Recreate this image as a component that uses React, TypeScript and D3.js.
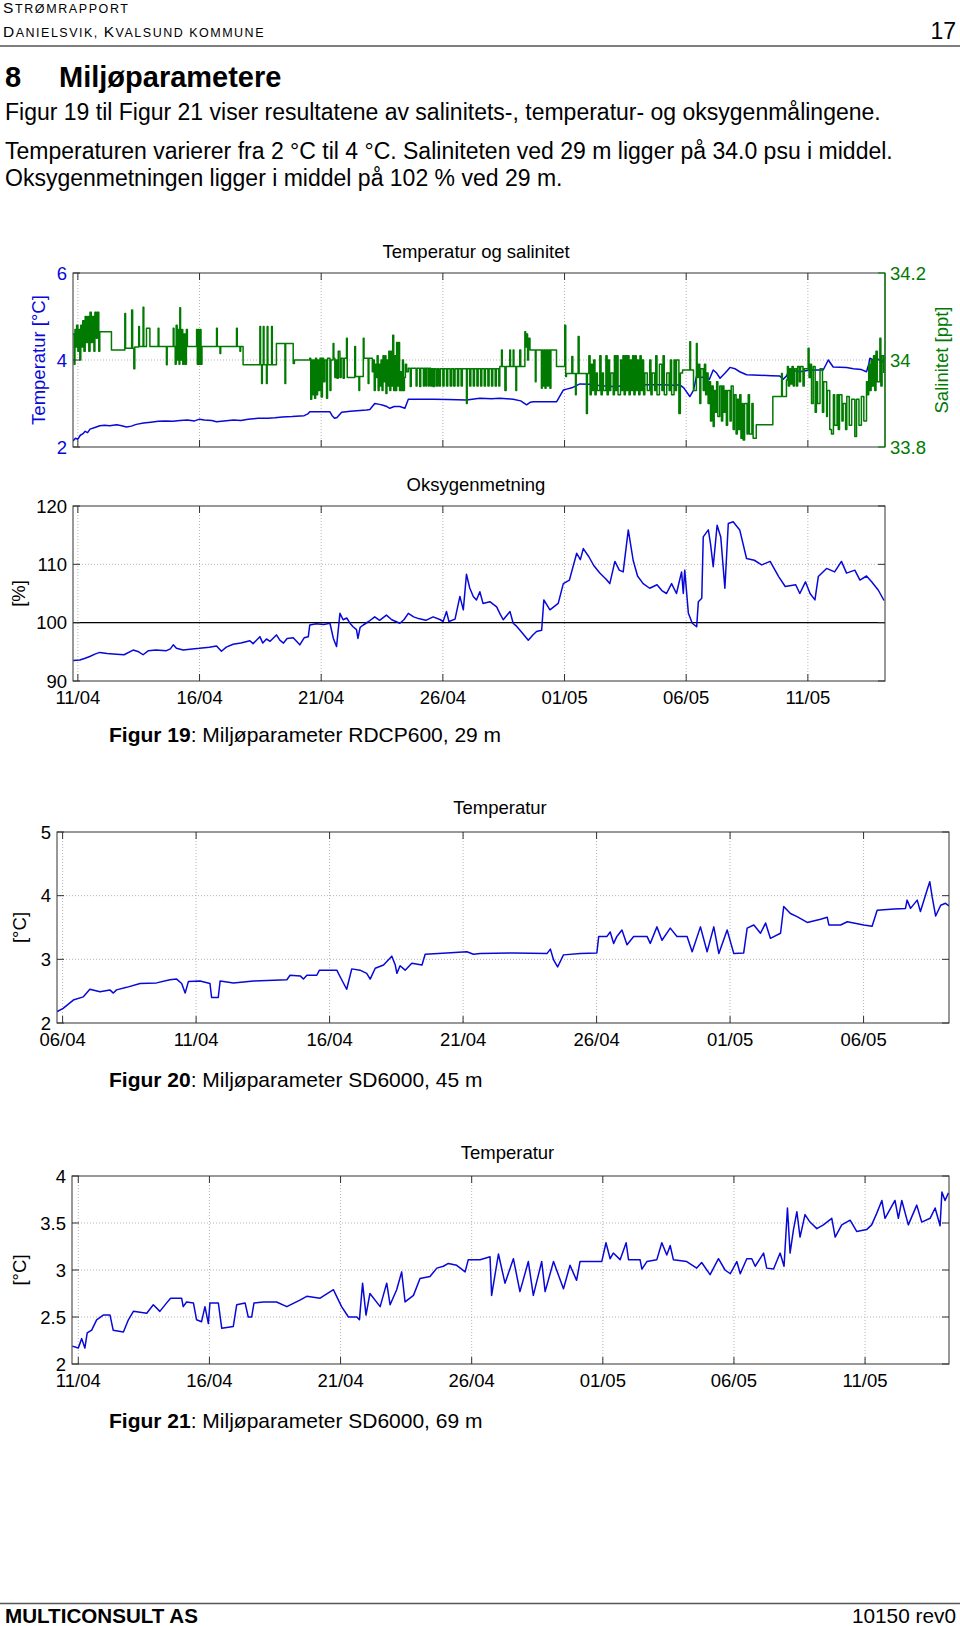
import React from 'react'
import * as d3 from 'd3'

const FONT = 'Liberation Sans, Arial, Helvetica, sans-serif'
const BLUE = '#0808d8'
const GREEN = '#007a00'
const YEAR = '2010'

type Pt = [number, number]

// Figur 19 - RDCP600, 29 m. Day 0 = 11/04
const rdcpSpan = [-0.2, 33.17]
const rdcpDates = ['11/04', '16/04', '21/04', '26/04', '01/05', '06/05', '11/05']
const rdcpTempTicks = [2, 4, 6]
const rdcpSalTicks = [33.8, 34, 34.2]
const rdcpOxyTicks = [90, 100, 110, 120]

const rdcpTemp: Pt[] = [
  [-0.2, 2.14], [-0.1, 2.2], [0.0, 2.18], [0.1, 2.27], [0.2, 2.3], [0.3, 2.36], [0.4, 2.33], [0.5, 2.41],
  [0.7, 2.45], [0.9, 2.49], [1.1, 2.5], [1.3, 2.49], [1.6, 2.51], [1.8, 2.49], [2.0, 2.46], [2.2, 2.48],
  [2.4, 2.52], [2.7, 2.55], [3.0, 2.57], [3.3, 2.59], [3.6, 2.6], [3.9, 2.59], [4.2, 2.61], [4.5, 2.62],
  [4.8, 2.6], [5.0, 2.64], [5.2, 2.62], [5.5, 2.61], [5.7, 2.58], [6.0, 2.6], [6.4, 2.62], [6.7, 2.61],
  [7.0, 2.64], [7.4, 2.66], [7.8, 2.66], [8.1, 2.67], [8.4, 2.69], [8.8, 2.7], [9.3, 2.72], [9.45, 2.76],
  [9.53, 2.81], [10.36, 2.81], [10.45, 2.72], [10.55, 2.66], [10.65, 2.68], [10.84, 2.8], [11.2, 2.82],
  [11.6, 2.84], [11.86, 2.85], [12.0, 2.86], [12.2, 3.0], [12.4, 2.98], [12.54, 2.96], [12.7, 2.93],
  [12.82, 2.89], [13.0, 2.93], [13.23, 2.93], [13.44, 2.89], [13.58, 3.1], [14.0, 3.1], [14.6, 3.1],
  [15.2, 3.09], [15.97, 3.08], [16.52, 3.12], [17.0, 3.11], [17.34, 3.12], [17.89, 3.1], [18.2, 3.06],
  [18.44, 2.97], [18.6, 3.03], [18.71, 3.04], [19.2, 3.04], [19.67, 3.04], [19.95, 3.31], [20.09, 3.33],
  [20.3, 3.36], [20.63, 3.45], [21.0, 3.44], [21.5, 3.41], [22.0, 3.39], [22.5, 3.41], [23.0, 3.42],
  [23.37, 3.43], [24.0, 3.43], [24.5, 3.42], [24.74, 3.43], [24.9, 3.36], [25.15, 3.16], [25.3, 3.3],
  [25.42, 3.62], [25.6, 3.6], [25.84, 3.62], [25.95, 3.55], [26.11, 3.77], [26.25, 3.7], [26.39, 3.58],
  [26.6, 3.7], [26.8, 3.83], [27.0, 3.8], [27.2, 3.73], [27.48, 3.66], [28.0, 3.65], [28.5, 3.64],
  [28.85, 3.63], [28.99, 3.56], [29.1, 3.62], [29.26, 3.77], [29.67, 3.73], [30.09, 3.77], [30.63, 3.77],
  [30.84, 4.0], [31.04, 3.84], [31.59, 3.83], [31.87, 3.8], [32.2, 3.78], [32.41, 3.73], [32.5, 3.9],
  [32.55, 4.04], [32.7, 4.0], [32.83, 4.04], [33.0, 3.98], [33.1, 3.95],
]

const rdcpSal: Pt[] = [
  [-0.2, 34.06], [-0.15, 33.99], [-0.12, 34.07], [-0.08, 34.03], [-0.05, 34.08], [0.0, 34.02], [0.04, 34.07],
  [0.08, 34.0], [0.12, 34.08], [0.16, 34.03], [0.2, 34.09], [0.25, 34.02], [0.3, 34.1], [0.35, 34.04],
  [0.4, 34.1], [0.45, 34.02], [0.5, 34.11], [0.55, 34.04], [0.6, 34.1], [0.66, 34.02], [0.7, 34.11],
  [0.76, 34.05], [0.8, 34.11], [0.86, 34.02], [0.9, 34.065], [1.38, 34.023], [1.93, 34.107], [1.96, 34.027],
  [2.21, 34.115], [2.25, 34.027], [2.3, 33.98], [2.34, 34.03], [2.5, 34.077], [2.53, 34.031], [2.68, 34.121],
  [2.71, 34.031], [2.82, 34.073], [2.96, 34.031], [3.3, 34.073], [3.33, 34.031], [3.64, 33.989], [3.67, 34.031],
  [3.92, 34.073], [3.95, 34.031], [4.0, 33.99], [4.04, 34.08], [4.08, 34.0], [4.12, 34.07], [4.16, 33.99],
  [4.19, 34.12], [4.22, 34.0], [4.27, 34.07], [4.31, 33.99], [4.36, 34.06], [4.41, 33.99], [4.46, 34.07],
  [4.5, 34.031], [4.88, 34.07], [4.91, 33.99], [4.95, 34.07], [4.98, 33.99], [5.02, 34.07], [5.06, 33.99],
  [5.1, 34.031], [5.7, 34.073], [5.73, 34.031], [5.84, 34.015], [5.87, 34.031], [6.52, 34.073], [6.55, 34.031],
  [6.66, 34.02], [6.69, 34.031], [6.79, 33.989], [7.48, 34.077], [7.51, 33.989], [7.55, 33.946], [7.58, 33.989],
  [7.62, 34.077], [7.65, 33.989], [7.75, 33.946], [7.78, 34.077], [7.81, 33.989], [7.96, 34.077], [7.99, 33.989],
  [8.16, 34.038], [8.51, 33.946], [8.54, 34.038], [8.85, 33.992], [8.9, 34.0], [9.53, 34.004], [9.57, 33.91],
  [9.61, 34.0], [9.65, 33.92], [9.69, 34.0], [9.73, 33.912], [9.77, 34.004], [9.81, 33.92], [9.85, 34.0],
  [9.9, 33.93], [9.95, 34.004], [10.0, 33.915], [10.05, 34.004], [10.1, 33.95], [10.15, 34.0], [10.22, 33.912],
  [10.26, 34.004], [10.36, 33.93], [10.4, 34.0], [10.49, 34.038], [10.52, 34.004], [10.56, 33.96], [10.6, 34.0],
  [10.65, 33.958], [10.7, 34.02], [10.77, 33.96], [10.82, 34.004], [10.9, 33.958], [10.95, 34.004], [11.04, 34.05],
  [11.07, 33.96], [11.38, 34.031], [11.41, 33.962], [11.55, 33.93], [11.58, 33.962], [11.73, 34.05], [11.76, 34.004],
  [11.93, 33.946], [11.96, 34.004], [12.1, 33.973], [12.14, 34.0], [12.18, 33.93], [12.22, 33.99], [12.26, 33.96],
  [12.3, 34.01], [12.34, 33.93], [12.38, 33.99], [12.42, 33.94], [12.46, 34.0], [12.5, 33.93], [12.54, 34.01],
  [12.58, 33.95], [12.62, 34.01], [12.66, 33.923], [12.7, 34.0], [12.74, 33.94], [12.78, 34.02], [12.82, 33.93],
  [12.86, 34.02], [12.9, 33.94], [12.94, 34.057], [12.98, 33.93], [13.02, 34.01], [13.06, 33.93], [13.1, 34.04],
  [13.14, 33.94], [13.18, 34.04], [13.22, 33.93], [13.26, 33.973], [13.3, 33.93], [13.34, 34.0], [13.38, 33.93],
  [13.42, 33.96], [13.46, 33.99], [13.51, 33.973], [13.58, 33.981], [13.66, 33.939], [13.7, 33.981], [13.9, 33.94],
  [13.94, 33.981], [14.05, 33.939], [14.09, 33.981], [14.2, 33.94], [14.24, 33.981], [14.3, 33.94], [14.33, 33.981],
  [14.4, 33.94], [14.44, 33.981], [14.5, 33.94], [14.55, 33.98], [14.6, 33.939], [14.65, 33.98], [14.72, 33.94],
  [14.78, 33.98], [14.84, 33.94], [14.9, 33.98], [15.0, 33.94], [15.05, 33.98], [15.15, 33.94], [15.2, 33.98],
  [15.3, 33.94], [15.36, 33.98], [15.44, 33.94], [15.5, 33.98], [15.6, 33.94], [15.65, 33.98], [15.75, 33.94],
  [15.8, 33.98], [15.97, 33.9], [16.0, 33.98], [16.1, 33.94], [16.15, 33.98], [16.25, 33.94], [16.3, 33.98],
  [16.4, 33.94], [16.45, 33.98], [16.55, 33.94], [16.6, 33.98], [16.7, 33.94], [16.75, 33.98], [16.85, 33.94],
  [16.9, 33.98], [17.0, 33.94], [17.05, 33.98], [17.15, 33.94], [17.2, 33.98], [17.3, 33.94], [17.34, 33.985],
  [17.41, 34.023], [17.44, 33.985], [17.55, 33.93], [17.6, 33.985], [17.75, 34.023], [17.78, 33.985],
  [17.89, 34.023], [17.92, 33.985], [18.0, 33.93], [18.03, 33.985], [18.16, 34.023], [18.2, 33.985],
  [18.37, 34.065], [18.4, 34.03], [18.44, 34.06], [18.48, 34.0], [18.52, 34.05], [18.58, 34.023], [18.8, 33.95],
  [18.83, 34.023], [19.05, 33.935], [19.08, 34.023], [19.12, 33.94], [19.16, 34.023], [19.2, 33.935],
  [19.24, 34.023], [19.3, 33.94], [19.34, 34.023], [19.4, 33.935], [19.44, 34.023], [19.67, 33.985],
  [20.01, 34.08], [20.05, 33.962], [20.08, 33.969], [20.3, 34.008], [20.34, 33.969], [20.45, 33.92],
  [20.48, 33.969], [20.56, 34.054], [20.6, 33.969], [20.9, 33.877], [20.94, 33.969], [21.0, 34.01], [21.05, 33.92],
  [21.1, 33.99], [21.15, 33.93], [21.2, 34.0], [21.25, 33.92], [21.3, 33.97], [21.35, 33.93], [21.45, 34.01],
  [21.5, 33.92], [21.55, 33.97], [21.6, 33.93], [21.7, 34.01], [21.75, 33.92], [21.8, 34.0], [21.85, 33.93],
  [21.9, 33.97], [22.0, 33.92], [22.05, 34.01], [22.1, 33.93], [22.15, 34.01], [22.2, 33.92], [22.3, 34.0],
  [22.35, 33.93], [22.4, 34.01], [22.45, 33.92], [22.5, 34.01], [22.55, 33.93], [22.6, 34.01], [22.65, 33.92],
  [22.7, 34.0], [22.75, 33.93], [22.8, 34.01], [22.85, 33.92], [22.9, 34.01], [22.95, 33.93], [23.0, 34.0],
  [23.05, 33.92], [23.1, 34.01], [23.15, 33.93], [23.2, 34.0], [23.25, 33.92], [23.3, 33.97], [23.4, 33.93],
  [23.5, 34.0], [23.55, 33.92], [23.6, 33.97], [23.7, 33.93], [23.75, 34.01], [23.8, 33.92], [23.9, 33.99],
  [24.0, 33.93], [24.05, 34.01], [24.1, 33.92], [24.2, 33.97], [24.3, 33.93], [24.35, 34.0], [24.4, 33.92],
  [24.5, 34.0], [24.55, 33.93], [24.6, 34.0], [24.7, 33.877], [24.76, 33.97], [24.85, 33.977], [25.15, 34.042],
  [25.18, 33.977], [25.3, 33.93], [25.42, 34.038], [25.45, 33.96], [25.5, 33.99], [25.56, 33.9], [25.6, 33.98],
  [25.7, 33.93], [25.75, 33.99], [25.8, 33.92], [25.84, 33.97], [25.9, 33.9], [25.95, 33.95], [26.0, 33.86],
  [26.05, 33.94], [26.11, 33.847], [26.15, 33.93], [26.2, 33.88], [26.25, 33.95], [26.3, 33.87], [26.38, 33.94],
  [26.45, 33.86], [26.5, 33.94], [26.55, 33.88], [26.6, 33.93], [26.65, 33.85], [26.7, 33.93], [26.8, 33.86],
  [26.85, 33.94], [26.93, 33.84], [26.98, 33.92], [27.05, 33.83], [27.1, 33.91], [27.15, 33.84], [27.2, 33.92],
  [27.25, 33.82], [27.3, 33.9], [27.34, 33.816], [27.4, 33.9], [27.5, 33.83], [27.55, 33.92], [27.6, 33.83],
  [27.7, 33.9], [27.75, 33.82], [27.88, 33.851], [28.56, 33.916], [28.92, 33.969], [28.95, 33.916],
  [29.12, 33.954], [29.16, 33.985], [29.2, 33.94], [29.25, 33.98], [29.3, 33.945], [29.35, 33.985], [29.4, 33.94],
  [29.45, 33.98], [29.53, 33.94], [29.58, 33.985], [29.65, 33.95], [29.7, 33.985], [29.8, 33.94], [29.85, 33.98],
  [30.01, 34.027], [30.05, 33.96], [30.1, 33.99], [30.15, 33.9], [30.22, 33.985], [30.3, 33.88], [30.35, 33.95],
  [30.4, 33.9], [30.5, 33.98], [30.6, 33.88], [30.65, 33.95], [30.77, 33.87], [30.8, 33.93], [30.9, 33.84],
  [30.97, 33.83], [31.05, 33.92], [31.1, 33.85], [31.2, 33.92], [31.25, 33.84], [31.3, 33.92], [31.4, 33.86],
  [31.45, 33.9], [31.55, 33.84], [31.6, 33.916], [31.7, 33.85], [31.8, 33.91], [31.93, 33.824], [32.0, 33.91],
  [32.1, 33.85], [32.2, 33.916], [32.3, 33.86], [32.41, 33.95], [32.45, 33.92], [32.5, 33.99], [32.55, 33.93],
  [32.6, 34.0], [32.65, 33.94], [32.7, 34.01], [32.75, 33.93], [32.8, 34.02], [32.85, 33.95], [32.96, 34.05],
  [33.0, 33.94], [33.05, 34.01], [33.12, 33.97],
]

const rdcpOxy: Pt[] = [
  [-0.19, 93.5], [0.08, 93.6], [0.3, 93.9], [0.49, 94.2], [0.7, 94.6], [0.9, 94.9], [1.2, 94.7], [1.59, 94.6],
  [1.9, 94.5], [2.27, 95.3], [2.5, 95.0], [2.68, 94.5], [2.9, 95.2], [3.2, 95.3], [3.64, 95.2], [3.8, 95.5],
  [3.92, 96.2], [4.05, 95.6], [4.33, 95.3], [4.7, 95.5], [5.0, 95.6], [5.4, 95.8], [5.7, 96.0], [5.9, 95.1],
  [6.1, 95.8], [6.38, 96.3], [6.7, 96.5], [7.07, 96.9], [7.2, 96.4], [7.48, 97.6], [7.6, 96.5], [7.75, 97.2],
  [7.9, 96.8], [8.16, 97.9], [8.3, 97.0], [8.45, 96.5], [8.6, 97.3], [8.85, 97.4], [9.12, 96.2], [9.3, 97.4],
  [9.47, 97.6], [9.53, 99.6], [9.8, 99.8], [10.1, 99.7], [10.36, 99.9], [10.5, 97.3], [10.63, 95.9],
  [10.77, 101.6], [10.9, 100.5], [11.05, 100.8], [11.2, 99.8], [11.31, 99.3], [11.45, 98.8], [11.51, 97.3],
  [11.6, 99.2], [11.73, 99.6], [11.95, 100.2], [12.2, 101.0], [12.4, 100.4], [12.68, 101.3], [12.9, 100.5],
  [13.23, 99.9], [13.4, 100.5], [13.58, 101.6], [13.8, 101.0], [14.0, 100.7], [14.3, 100.4], [14.6, 101.0],
  [14.9, 100.5], [15.01, 100.2], [15.15, 101.9], [15.25, 100.2], [15.5, 100.6], [15.7, 104.5], [15.84, 102.2],
  [15.97, 108.3], [16.1, 106.0], [16.25, 104.5], [16.38, 103.9], [16.52, 105.3], [16.65, 103.3], [16.93, 103.6],
  [17.21, 102.7], [17.35, 101.5], [17.48, 100.5], [17.76, 101.9], [17.89, 99.9], [18.0, 99.5], [18.17, 98.7],
  [18.35, 97.8], [18.51, 97.0], [18.7, 97.9], [18.85, 98.5], [19.06, 98.7], [19.15, 103.9], [19.4, 102.2],
  [19.74, 103.3], [19.95, 106.7], [20.2, 107.3], [20.5, 111.9], [20.65, 110.8], [20.77, 112.7], [21.0, 111.3],
  [21.2, 109.8], [21.45, 108.5], [21.7, 107.5], [21.86, 106.7], [22.07, 110.5], [22.25, 109.0], [22.41, 108.7],
  [22.62, 115.9], [22.82, 110.7], [23.0, 108.0], [23.23, 106.7], [23.5, 105.9], [23.8, 106.5], [24.0, 105.5],
  [24.19, 105.0], [24.4, 106.7], [24.6, 105.0], [24.81, 108.7], [24.88, 105.0], [24.94, 109.0], [25.09, 101.6],
  [25.25, 99.9], [25.43, 99.3], [25.5, 103.6], [25.64, 104.2], [25.7, 114.7], [25.91, 115.9], [26.0, 113.5],
  [26.11, 109.6], [26.27, 116.7], [26.42, 114.7], [26.59, 105.9], [26.73, 117.0], [26.93, 117.3], [27.2, 115.9],
  [27.48, 111.0], [27.8, 110.7], [28.1, 109.9], [28.45, 110.5], [28.8, 107.9], [29.07, 106.2], [29.5, 106.5],
  [29.67, 105.0], [29.9, 107.0], [30.09, 105.0], [30.29, 103.9], [30.43, 107.9], [30.77, 109.3], [31.1, 108.7],
  [31.38, 110.5], [31.59, 108.5], [31.93, 109.0], [32.14, 107.3], [32.41, 108.0], [32.62, 107.0], [32.89, 105.6],
  [33.13, 103.8],
]

// Figur 20 - SD6000, 45 m. Day 0 = 06/04
const sd45Span = [-0.21, 33.2]
const sd45Dates = ['06/04', '11/04', '16/04', '21/04', '26/04', '01/05', '06/05']
const sd45Ticks = [2, 3, 4, 5]
const sd45Temp: Pt[] = [
  [-0.2, 2.18], [0.02, 2.23], [0.4, 2.36], [0.77, 2.41], [1.02, 2.53], [1.4, 2.49], [1.77, 2.52], [1.9, 2.47],
  [2.02, 2.52], [2.4, 2.56], [2.9, 2.62], [3.52, 2.63], [4.02, 2.68], [4.27, 2.69], [4.46, 2.62], [4.59, 2.47],
  [4.71, 2.65], [5.15, 2.66], [5.52, 2.62], [5.58, 2.4], [5.83, 2.4], [5.9, 2.66], [6.4, 2.63], [7.15, 2.66],
  [8.4, 2.68], [8.52, 2.75], [8.9, 2.74], [9.02, 2.69], [9.15, 2.75], [9.52, 2.75], [9.62, 2.83], [10.27, 2.83],
  [10.39, 2.73], [10.64, 2.53], [10.83, 2.85], [11.14, 2.83], [11.39, 2.78], [11.52, 2.69], [11.71, 2.86],
  [12.02, 2.91], [12.33, 3.05], [12.46, 2.91], [12.52, 2.78], [12.64, 2.9], [12.83, 2.83], [13.08, 2.94],
  [13.46, 2.91], [13.58, 3.08], [14.39, 3.1], [15.14, 3.12], [15.39, 3.08], [15.64, 3.09], [16.89, 3.1],
  [18.14, 3.09], [18.27, 3.16], [18.39, 2.99], [18.54, 2.88], [18.76, 3.07], [19.39, 3.09], [20.01, 3.1],
  [20.08, 3.36], [20.39, 3.36], [20.51, 3.43], [20.64, 3.25], [20.76, 3.36], [20.95, 3.46], [21.14, 3.23],
  [21.39, 3.36], [21.89, 3.36], [22.01, 3.25], [22.26, 3.51], [22.45, 3.3], [22.76, 3.49], [23.01, 3.36],
  [23.39, 3.36], [23.58, 3.12], [23.89, 3.51], [24.14, 3.12], [24.39, 3.51], [24.58, 3.09], [24.89, 3.46],
  [25.14, 3.09], [25.51, 3.1], [25.64, 3.49], [25.89, 3.54], [26.14, 3.41], [26.33, 3.57], [26.51, 3.33],
  [26.89, 3.41], [27.01, 3.83], [27.26, 3.72], [27.51, 3.67], [27.89, 3.58], [28.39, 3.63], [28.64, 3.66],
  [28.7, 3.54], [29.14, 3.54], [29.39, 3.59], [30.01, 3.54], [30.32, 3.52], [30.51, 3.77], [31.14, 3.79],
  [31.57, 3.8], [31.63, 3.93], [31.76, 3.8], [32.01, 3.93], [32.13, 3.75], [32.38, 4.09], [32.48, 4.22],
  [32.57, 3.98], [32.7, 3.68], [32.89, 3.85], [33.07, 3.88], [33.2, 3.84],
]

// Figur 21 - SD6000, 69 m. Day 0 = 11/04
const sd69Span = [-0.24, 33.2]
const sd69Dates = ['11/04', '16/04', '21/04', '26/04', '01/05', '06/05', '11/05']
const sd69Ticks = [2, 2.5, 3, 3.5, 4]
const sd69Temp: Pt[] = [
  [-0.23, 2.19], [0.0, 2.17], [0.13, 2.27], [0.25, 2.17], [0.34, 2.33], [0.51, 2.36], [0.7, 2.47], [0.95, 2.52],
  [1.21, 2.52], [1.33, 2.36], [1.72, 2.34], [1.91, 2.47], [2.1, 2.56], [2.61, 2.54], [2.86, 2.63], [3.11, 2.56],
  [3.37, 2.65], [3.52, 2.7], [3.94, 2.7], [4.0, 2.61], [4.13, 2.66], [4.39, 2.65], [4.51, 2.47], [4.7, 2.45],
  [4.83, 2.61], [4.96, 2.43], [5.02, 2.65], [5.34, 2.65], [5.47, 2.38], [5.91, 2.4], [6.04, 2.63], [6.36, 2.65],
  [6.48, 2.5], [6.61, 2.5], [6.7, 2.65], [7.06, 2.66], [7.56, 2.66], [7.95, 2.61], [8.45, 2.68], [8.71, 2.72],
  [9.22, 2.7], [9.73, 2.79], [9.85, 2.72], [10.04, 2.61], [10.3, 2.5], [10.62, 2.5], [10.72, 2.47], [10.84, 2.86],
  [10.97, 2.52], [11.12, 2.75], [11.51, 2.61], [11.76, 2.86], [11.89, 2.63], [12.14, 2.79], [12.33, 2.98],
  [12.46, 2.66], [12.78, 2.73], [13.03, 2.91], [13.41, 2.93], [13.67, 3.02], [13.92, 3.04], [14.11, 3.07],
  [14.43, 3.05], [14.75, 2.98], [14.87, 3.11], [15.32, 3.11], [15.7, 3.14], [15.76, 2.73], [16.02, 3.17],
  [16.27, 2.86], [16.59, 3.12], [16.84, 2.77], [17.16, 3.09], [17.35, 2.73], [17.67, 3.09], [17.8, 2.77],
  [18.12, 3.09], [18.5, 2.8], [18.75, 3.05], [19.0, 2.89], [19.13, 3.09], [19.64, 3.09], [19.96, 3.09],
  [20.12, 3.29], [20.28, 3.12], [20.4, 3.18], [20.66, 3.11], [20.89, 3.29], [20.98, 3.11], [21.42, 3.11],
  [21.49, 3.01], [21.68, 3.09], [22.06, 3.11], [22.25, 3.29], [22.44, 3.16], [22.57, 3.26], [22.69, 3.11],
  [23.2, 3.09], [23.58, 3.02], [23.77, 3.08], [24.09, 2.95], [24.41, 3.12], [24.66, 3.0], [24.86, 2.96],
  [25.11, 3.09], [25.24, 2.96], [25.49, 3.12], [25.68, 3.12], [25.81, 3.04], [26.13, 3.18], [26.25, 3.02],
  [26.51, 3.01], [26.76, 3.18], [26.91, 3.04], [27.04, 3.66], [27.14, 3.18], [27.27, 3.43], [27.4, 3.62],
  [27.52, 3.35], [27.71, 3.59], [27.9, 3.51], [28.16, 3.44], [28.41, 3.48], [28.73, 3.55], [28.86, 3.35],
  [29.11, 3.48], [29.43, 3.53], [29.68, 3.41], [30.06, 3.43], [30.25, 3.48], [30.44, 3.6], [30.64, 3.74],
  [30.76, 3.55], [31.14, 3.74], [31.27, 3.55], [31.4, 3.74], [31.65, 3.48], [31.97, 3.69], [32.16, 3.51],
  [32.48, 3.55], [32.67, 3.66], [32.86, 3.47], [32.93, 3.83], [33.05, 3.74], [33.18, 3.82],
]

const parseDay = d3.utcParse('%d/%m/%Y')

type Series = { data: Pt[]; color: string; step?: boolean; right?: boolean }
type RightAxis = { domain: number[]; ticks: number[]; color: string; label: string; labelX: number }

interface PanelProps {
  id: string
  left: number
  top: number
  width: number
  height: number
  span: number[]
  dates: string[]
  yDomain: number[]
  yTicks: number[]
  yColor?: string
  yLabel: string
  yLabelX: number
  title: string
  titleY: number
  series: Series[]
  right?: RightAxis
  refLine?: number
  showDates?: boolean
}

function Panel(props: PanelProps) {
  const { id, left, top, width, height, span, dates, yDomain, yTicks, yLabel, yLabelX, title, titleY, series, right, refLine } = props
  const yColor = props.yColor || '#000'
  const bottom = top + height
  const rightX = left + width
  const t0 = parseDay(dates[0] + '/' + YEAR)!
  const at = (d: number) => new Date(t0.getTime() + d * 864e5)
  const x = d3.scaleUtc().domain([at(span[0]), at(span[1])]).range([left, rightX])
  const y = d3.scaleLinear().domain(yDomain).range([bottom, top])
  const y2 = right ? d3.scaleLinear().domain(right.domain).range([bottom, top]) : y
  const tickDates = dates.map(s => parseDay(s + '/' + YEAR)!)
  const tl = 7
  const fs = 18.5
  const grid = '#b4b4b4'
  const frame = '#333'

  return (
    <g fontFamily={FONT}>
      <defs>
        <clipPath id={id}>
          <rect x={left} y={top} width={width} height={height} />
        </clipPath>
      </defs>
      <rect x={left} y={top} width={width} height={height} fill='#fff' />
      {tickDates.map((d, i) => (
        <line key={'vg' + i} x1={x(d)} x2={x(d)} y1={top} y2={bottom} stroke={grid} strokeDasharray='1 2' />
      ))}
      {yTicks.slice(1, -1).map((v, i) => (
        <line key={'hg' + i} x1={left} x2={rightX} y1={y(v)} y2={y(v)} stroke={grid} strokeDasharray='1 2' />
      ))}
      {refLine !== undefined && (
        <line x1={left} x2={rightX} y1={y(refLine)} y2={y(refLine)} stroke='#000' strokeWidth={1.3} />
      )}
      <g clipPath={`url(#${id})`}>
        {series.map((s, i) => {
          const sc = s.right ? y2 : y
          const path = d3.line<Pt>()
            .x(p => x(at(p[0])))
            .y(p => sc(p[1]))
            .curve(s.step ? d3.curveStepAfter : d3.curveLinear)(s.data)
          return <path key={i} d={path || ''} fill='none' stroke={s.color} strokeWidth={1.5} strokeLinejoin='round' />
        })}
      </g>
      <rect x={left} y={top} width={width} height={height} fill='none' stroke={frame} strokeWidth={1} />
      {right && <line x1={rightX} x2={rightX} y1={top} y2={bottom} stroke={right.color} strokeWidth={1.2} />}
      {tickDates.map((d, i) => (
        <g key={'xt' + i}>
          <line x1={x(d)} x2={x(d)} y1={top} y2={top + tl} stroke={frame} />
          <line x1={x(d)} x2={x(d)} y1={bottom} y2={bottom - tl} stroke={frame} />
          {props.showDates && (
            <text x={x(d)} y={bottom + 23} fontSize={fs} textAnchor='middle' fill='#000'>{dates[i]}</text>
          )}
        </g>
      ))}
      {yTicks.map((v, i) => (
        <g key={'yt' + i}>
          <line x1={left} x2={left + tl} y1={y(v)} y2={y(v)} stroke={frame} />
          {!right && <line x1={rightX} x2={rightX - tl} y1={y(v)} y2={y(v)} stroke={frame} />}
          <text x={left - 6} y={y(v)} dy='0.36em' fontSize={fs} textAnchor='end' fill={yColor}>{String(v)}</text>
        </g>
      ))}
      {right && right.ticks.map((v, i) => (
        <g key={'rt' + i}>
          <line x1={rightX} x2={rightX - tl} y1={y2(v)} y2={y2(v)} stroke={right.color} />
          <text x={rightX + 5} y={y2(v)} dy='0.36em' fontSize={fs} fill={right.color}>{String(v)}</text>
        </g>
      ))}
      <text x={(left + rightX) / 2 - 3} y={titleY} fontSize={fs} textAnchor='middle' fill='#000'>{title}</text>
      <text transform={`translate(${yLabelX},${(top + bottom) / 2}) rotate(-90)`} dy='0.36em'
        fontSize={fs} textAnchor='middle' fill={yColor}>{yLabel}</text>
      {right && (
        <text transform={`translate(${right.labelX},${(top + bottom) / 2}) rotate(-90)`} dy='0.36em'
          fontSize={fs} textAnchor='middle' fill={right.color}>{right.label}</text>
      )}
    </g>
  )
}

function Caption({ y, num, rest }: { y: number; num: string; rest: string }) {
  return (
    <text x={109} y={y} fontSize={21} fontFamily={FONT} fill='#000'>
      <tspan fontWeight='bold'>{'Figur ' + num}</tspan>{rest}
    </text>
  )
}

export default function App() {
  return (
    <svg width={960} height={1626} style={{ position: 'absolute', left: 0, top: 0, background: '#fff' }}
      fontFamily={FONT}>
      <rect width={960} height={1626} fill='#fff' />
      {/* page header */}
      <text x={3} y={12.7} fill='#000' letterSpacing={1.6}>
        <tspan fontSize={15.5}>S</tspan><tspan fontSize={12.5}>TRØMRAPPORT</tspan>
      </text>
      <text x={3} y={37.3} fill='#000' letterSpacing={1.5}>
        <tspan fontSize={15.5}>D</tspan><tspan fontSize={12.5}>ANIELSVIK, </tspan>
        <tspan fontSize={15.5}>K</tspan><tspan fontSize={12.5}>VALSUND KOMMUNE</tspan>
      </text>
      <text x={956} y={39} fontSize={23} textAnchor='end' fill='#000'>17</text>
      <line x1={0} x2={960} y1={46} y2={46} stroke='#555' strokeWidth={1.5} />
      <text x={5} y={87} fontSize={29} fontWeight='bold' fill='#000'>8</text>
      <text x={59} y={87} fontSize={29} fontWeight='bold' fill='#000'>Miljøparametere</text>
      <text x={5} y={120} fontSize={23} fill='#000'>
        Figur 19 til Figur 21 viser resultatene av salinitets-, temperatur- og oksygenmålingene.
      </text>
      <text x={5} y={159} fontSize={23} fill='#000'>
        Temperaturen varierer fra 2 °C til 4 °C. Saliniteten ved 29 m ligger på 34.0 psu i middel.
      </text>
      <text x={5} y={186} fontSize={23} fill='#000'>
        Oksygenmetningen ligger i middel på 102 % ved 29 m.
      </text>

      <Panel id='c1' left={73} top={273} width={812} height={174} span={rdcpSpan} dates={rdcpDates}
        yDomain={[2, 6]} yTicks={rdcpTempTicks} yColor={BLUE} yLabel='Temperatur [°C]' yLabelX={38}
        title='Temperatur og salinitet' titleY={258}
        series={[{ data: rdcpTemp, color: BLUE }, { data: rdcpSal, color: GREEN, step: true, right: true }]}
        right={{ domain: [33.8, 34.2], ticks: rdcpSalTicks, color: GREEN, label: 'Salinitet [ppt]', labelX: 941 }} />

      <Panel id='c2' left={73} top={506} width={812} height={175} span={rdcpSpan} dates={rdcpDates}
        yDomain={[90, 120]} yTicks={rdcpOxyTicks} yLabel='[%]' yLabelX={18}
        title='Oksygenmetning' titleY={491} refLine={100} showDates
        series={[{ data: rdcpOxy, color: BLUE }]} />
      <Caption y={742} num='19' rest=': Miljøparameter RDCP600, 29 m' />

      <Panel id='c3' left={57} top={832} width={892} height={191} span={sd45Span} dates={sd45Dates}
        yDomain={[2, 5]} yTicks={sd45Ticks} yLabel='[°C]' yLabelX={19}
        title='Temperatur' titleY={814} showDates
        series={[{ data: sd45Temp, color: BLUE }]} />
      <Caption y={1087} num='20' rest=': Miljøparameter SD6000, 45 m' />

      <Panel id='c4' left={72} top={1176} width={877} height={188} span={sd69Span} dates={sd69Dates}
        yDomain={[2, 4]} yTicks={sd69Ticks} yLabel='[°C]' yLabelX={19}
        title='Temperatur' titleY={1159} showDates
        series={[{ data: sd69Temp, color: BLUE }]} />
      <Caption y={1428} num='21' rest=': Miljøparameter SD6000, 69 m' />

      {/* page footer */}
      <line x1={0} x2={960} y1={1603.5} y2={1603.5} stroke='#555' strokeWidth={1.5} />
      <text x={5} y={1623} fontSize={20.6} fontWeight='bold' fill='#000'>MULTICONSULT AS</text>
      <text x={956} y={1623} fontSize={20.8} textAnchor='end' fill='#000'>10150 rev0</text>
    </svg>
  )
}
